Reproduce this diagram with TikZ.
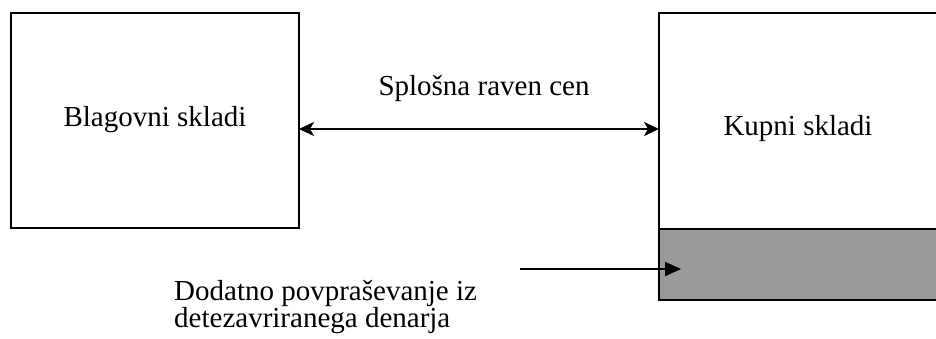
\documentclass[tikz,border=0pt]{standalone}
\usepackage{fontspec}
\setmainfont{Liberation Serif}
\usetikzlibrary{arrows.meta}
\begin{document}
\begin{tikzpicture}[x=1pt,y=-1pt,
  box/.style={draw=black,line width=2pt,fill=white,inner sep=0pt,outer sep=0pt},
  lbl/.style={font=\fontsize{29}{27}\selectfont,inner sep=0pt,anchor=base},
  arr/.style={line width=2pt,-{Triangle[length=16pt,width=14pt]}},
  darr/.style={line width=2pt,{Stealth[length=15pt,width=14pt,inset=4pt]}-{Stealth[length=15pt,width=14pt,inset=4pt]}}]
\useasboundingbox (0,0) rectangle (936,338);
\node[box,minimum width=288pt,minimum height=215pt,anchor=north west] (blag) at (11,13) {};
\node[box,minimum width=290pt,minimum height=216pt,anchor=north west] (kupni) at (659,13) {};
\node[box,fill=black!40,minimum width=290pt,minimum height=71pt,anchor=north west] (dod) at (659,229) {};
\node[lbl] (tb) at (155,126) {Blagovni skladi};
\node[lbl] (tk) at (798,135) {Kupni skladi};
\node[lbl] (ts) at (484,95) {Splošna raven cen};
\node[lbl,anchor=base west,align=left] (td) at (174,327) {Dodatno povpraševanje iz\\detezavriranega denarja};
\coordinate (a1) at (blag.east |- 0,129);
\coordinate (a2) at (kupni.west |- 0,129);
\draw[darr] (a1) -- (a2);
\coordinate (s) at (520,269);
\coordinate (e) at (681,269);
\draw[arr] (s) -- (e);
\end{tikzpicture}
\end{document}
